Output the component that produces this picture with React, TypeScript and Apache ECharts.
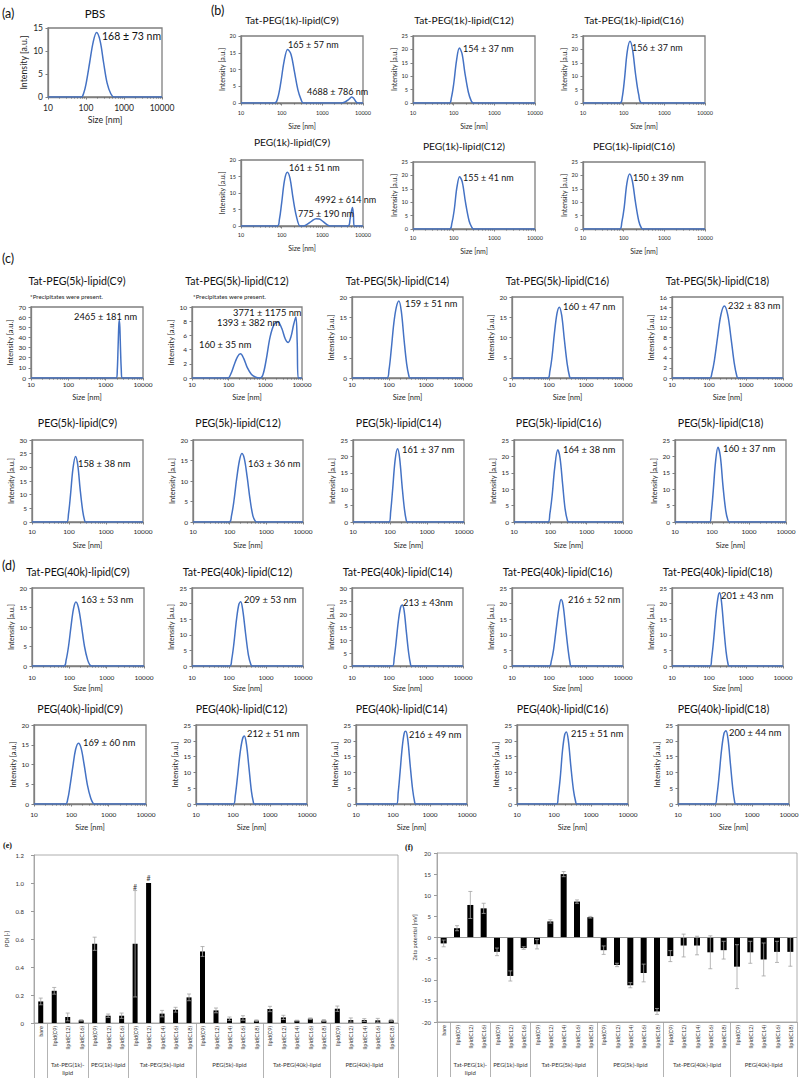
import React, { useEffect, useRef } from 'react';
import * as echarts from 'echarts';

const FONT = 'Lato, "Noto Sans", sans-serif';
const SERIF = '"Liberation Serif", "DejaVu Serif", serif';
const BLUE = '#4472C4';
const TXT = '#262626';
const FRAME = '#7f7f7f';
const FRAME2 = '#9a9a9a';
const ERR = '#a3a3a3';

// ---------- DLS size distributions: [size (nm), intensity (a.u.)] ----------
const curvePBS = [[10,0],[75,0],[88,1],[100,2.8],[125,7.5],[155,12],[190,14],[235,12.2],[290,7.5],[360,3],[450,0.7],[550,0],[10000,0]];
const tat1kC9 = [[10,0],[68,0],[80,1.5],[95,6],[115,12.5],[140,16],[170,14.5],[205,9.5],[250,4],[300,1],[340,0],[2900,0],[3600,0.3],[4400,1],[5300,1.8],[6000,1.3],[6800,0.3],[7500,0],[10000,0]];
const tat1kC12 = [[10,0],[78,0],[88,2],[100,7],[118,16],[138,20.5],[160,18.5],[190,11],[230,4],[270,0.8],[305,0],[10000,0]];
const tat1kC16 = [[10,0],[82,0],[92,2],[105,9],[122,19],[143,23],[165,20],[195,11],[235,3],[280,0],[10000,0]];
const peg1kC9 = [[10,0],[78,0],[88,2],[100,7],[118,14],[138,16.3],[160,14.5],[190,8.5],[230,3],[285,0],[340,0],[420,0.5],[550,1.5],[700,2.2],[850,2.1],[1050,1.3],[1300,0.4],[1550,0],[4300,0],[4800,2],[5200,4.5],[5500,5.6],[5800,3.5],[6100,0],[10000,0]];
const peg1kC12 = [[10,0],[80,0],[90,2],[103,7],[120,15.5],[140,19.5],[163,17.5],[195,10],[240,3],[280,0.6],[310,0],[10000,0]];
const peg1kC16 = [[10,0],[80,0],[90,2.5],[103,8],[120,17],[140,20.5],[163,18],[195,10],[235,3],[270,0.5],[295,0],[10000,0]];
const tat5kC9 = [[10,0],[1950,0],[2050,8],[2150,30],[2250,52],[2320,57],[2400,50],[2500,28],[2620,8],[2750,0],[10000,0]];
const tat5kC12 = [[10,0],[95,0],[115,0.6],[140,1.8],[175,3],[210,3.4],[255,2.8],[320,1.5],[420,0.5],[550,0.1],[700,0],[850,0.4],[1050,2.5],[1350,5.8],[1750,7.6],[2200,7.9],[2800,7],[3500,5.5],[4200,5],[5000,5.8],[5900,7.5],[6800,8.6],[7400,5],[7900,0],[10000,0]];
const tat5kC14 = [[10,0],[88,0],[100,2],[115,7],[135,13.5],[158,17.5],[185,19],[215,16.5],[255,9.5],[300,3.5],[345,0.5],[370,0],[10000,0]];
const tat5kC16 = [[10,0],[94,0],[105,1.5],[120,5],[140,11],[165,16],[190,17.5],[220,15.5],[260,9.5],[310,3.5],[360,0.3],[380,0],[10000,0]];
const tat5kC18 = [[10,0],[105,0],[120,1],[140,3.5],[170,8],[210,12.5],[260,14.2],[320,12.5],[400,7.5],[480,3],[560,0.5],[610,0],[10000,0]];
const peg5kC9 = [[10,0],[86,0],[97,3],[110,10],[128,19.5],[150,24],[172,21],[200,12],[235,4],[265,0.5],[280,0],[10000,0]];
const peg5kC12 = [[10,0],[98,0],[112,1.5],[130,5],[155,10.5],[185,15],[215,16.7],[250,15.5],[300,11],[360,5.5],[430,1.5],[500,0.2],[550,0],[10000,0]];
const peg5kC14 = [[10,0],[94,0],[104,3],[118,10],[138,19],[160,22.3],[182,19.5],[212,11],[245,4],[275,0.5],[295,0],[10000,0]];
const peg5kC16 = [[10,0],[86,0],[97,2.5],[112,8],[132,16.5],[160,22],[185,19.5],[218,11.5],[255,4],[295,0.5],[325,0],[10000,0]];
const peg5kC18 = [[10,0],[86,0],[96,3],[108,9.5],[125,18.5],[145,22.8],[168,20],[198,11],[235,3.5],[270,0.5],[295,0],[10000,0]];
const tat40kC9 = [[10,0],[72,0],[82,1.5],[95,5],[112,10.5],[130,14.8],[150,16.4],[175,15],[210,10.5],[255,5],[310,1.5],[360,0.2],[400,0],[10000,0]];
const tat40kC12 = [[10,0],[106,0],[118,2],[135,7],[160,15],[185,19.8],[207,20.6],[235,18],[280,10.5],[335,3.5],[390,0.5],[425,0],[10000,0]];
const tat40kC14 = [[10,0],[125,0],[138,3],[155,9],[178,17],[205,22.5],[228,23.5],[255,21.5],[295,13],[340,5],[380,0.8],[400,0],[10000,0]];
const tat40kC16 = [[10,0],[103,0],[115,1.5],[132,5],[155,11.5],[185,18.5],[212,21.3],[240,19.5],[280,12.5],[330,5],[370,1],[395,0],[10000,0]];
const tat40kC18 = [[10,0],[107,0],[118,2.5],[135,9],[155,17],[178,22.5],[195,23.5],[218,20.5],[250,12.5],[290,4.5],[325,0.8],[350,0],[10000,0]];
const peg40kC9 = [[10,0],[70,0],[80,1.2],[92,4.5],[110,9.5],[130,13.8],[155,15.4],[182,14.2],[220,10],[270,4.8],[330,1.5],[380,0.2],[410,0],[10000,0]];
const peg40kC12 = [[10,0],[103,0],[115,2.5],[132,8.5],[155,16],[180,20.5],[203,21.5],[230,19],[270,11.5],[315,4],[355,0.6],[375,0],[10000,0]];
const peg40kC14 = [[10,0],[125,0],[138,3.5],[155,10],[178,18],[202,22.5],[222,23],[250,20.5],[290,12.5],[340,4.5],[385,0.6],[405,0],[10000,0]];
const peg40kC16 = [[10,0],[118,0],[130,2.5],[148,8.5],[170,17],[195,22],[216,22.8],[245,20],[285,12],[335,4.5],[385,0.7],[410,0],[10000,0]];
const peg40kC18 = [[10,0],[100,0],[112,2.5],[128,8.5],[150,17],[175,22.3],[198,23.2],[225,20.5],[262,12.5],[305,4.5],[340,0.7],[360,0],[10000,0]];

// ---------- (e) PDI and (f) zeta potential ----------
const groupLabels = ['', 'Tat-PEG(1k)-\nlipid', 'PEG(1k)-lipid', 'Tat-PEG(5k)-lipid', 'PEG(5k)-lipid', 'Tat-PEG(40k)-lipid', 'PEG(40k)-lipid'];
const groupMembers = [
  ['bare'],
  ['lipid(C9)', 'lipid(C12)', 'lipid(C16)'],
  ['lipid(C9)', 'lipid(C12)', 'lipid(C16)'],
  ['lipid(C9)', 'lipid(C12)', 'lipid(C14)', 'lipid(C16)', 'lipid(C18)'],
  ['lipid(C9)', 'lipid(C12)', 'lipid(C14)', 'lipid(C16)', 'lipid(C18)'],
  ['lipid(C9)', 'lipid(C12)', 'lipid(C14)', 'lipid(C16)', 'lipid(C18)'],
  ['lipid(C9)', 'lipid(C12)', 'lipid(C14)', 'lipid(C16)', 'lipid(C18)'],
];
const pdiMean = [0.154, 0.23, 0.043, 0.019, 0.566, 0.052, 0.052, 0.566, 1.0, 0.067, 0.095, 0.183, 0.511, 0.09, 0.031, 0.036, 0.017, 0.1, 0.04, 0.017, 0.031, 0.017, 0.102, 0.021, 0.021, 0.019, 0.019];
const pdiErr = [0.024, 0.024, 0.028, 0.005, 0.047, 0.012, 0.019, 0.38, 0, 0.023, 0.017, 0.024, 0.035, 0.017, 0.012, 0.016, 0.005, 0.019, 0.015, 0.003, 0.005, 0.007, 0.019, 0.015, 0.01, 0.014, 0.007];
const pdiHashIndex = [7, 8];
const pdiHashValue = [0.975, 1.035];
const zetaMean = [-1.4, 2.2, 7.7, 6.9, -3.4, -9.1, -2.5, -1.6, 3.8, 15.0, 8.5, 4.8, -3.0, -6.5, -11.3, -8.4, -17.5, -4.4, -1.9, -1.9, -3.5, -3.0, -6.9, -3.5, -5.2, -3.4, -3.4];
const zetaErr = [0.8, 0.6, 3.2, 1.2, 0.9, 1.2, 0.3, 1.1, 0.4, 0.6, 0.4, 0.2, 1.0, 0.4, 0.6, 2.1, 0.7, 1.3, 2.7, 2.2, 3.9, 2.1, 5.2, 2.6, 3.9, 2.5, 3.4];

// ---------- layout of the small DLS panels ----------
type Row = { tick: number; name: number; title: number; note: number; xMargin: number; xNameGap: number; yNameGap: number; yMargin: number };
const ROWS: Record<string, Row> = {
  a: { tick: 8.5, name: 8.8, title: 11.5, note: 10.5, xMargin: 6.5, xNameGap: 17.5, yNameGap: 20, yMargin: 5 },
  b1: { tick: 5.5, name: 7, title: 10.2, note: 9, xMargin: 7, xNameGap: 19.5, yNameGap: 16, yMargin: 5 },
  b2: { tick: 5.5, name: 7, title: 10.2, note: 9, xMargin: 6, xNameGap: 18, yNameGap: 16, yMargin: 5 },
  c1: { tick: 6.5, name: 7.5, title: 10.6, note: 9.3, xMargin: 3, xNameGap: 15, yNameGap: 17, yMargin: 5 },
  c2: { tick: 6.5, name: 7.5, title: 10.6, note: 9.3, xMargin: 6, xNameGap: 19, yNameGap: 17, yMargin: 5 },
  d1: { tick: 6.5, name: 7.5, title: 10.6, note: 9.3, xMargin: 7.5, xNameGap: 18, yNameGap: 17, yMargin: 5 },
  d2: { tick: 6.5, name: 7.5, title: 10.6, note: 9.3, xMargin: 6.5, xNameGap: 19, yNameGap: 17, yMargin: 5 },
};

type Panel = { row: string; title: string; curve: number[][]; yMax: number; yStep: number; box: number[]; titleY: number; notes: [string, number, number][]; sub?: [string, number, number] };

const PANELS: Panel[] = [
  { row: 'a', title: 'PBS', curve: curvePBS, yMax: 15, yStep: 5, box: [48, 28, 162, 97], titleY: 13, notes: [['168 ± 73 nm', 102, 36]] },
  { row: 'b1', title: 'Tat-PEG(1k)-lipid(C9)', curve: tat1kC9, yMax: 20, yStep: 5, box: [241, 36, 363, 103], titleY: 20, notes: [['165 ± 57 nm', 288, 44], ['4688 ± 786 nm', 307, 91]] },
  { row: 'b1', title: 'Tat-PEG(1k)-lipid(C12)', curve: tat1kC12, yMax: 25, yStep: 5, box: [413, 36, 535, 103], titleY: 20, notes: [['154 ± 37 nm', 463, 48]] },
  { row: 'b1', title: 'Tat-PEG(1k)-lipid(C16)', curve: tat1kC16, yMax: 25, yStep: 5, box: [583, 36, 705, 103], titleY: 20, notes: [['156 ± 37 nm', 632, 47]] },
  { row: 'b2', title: 'PEG(1k)-lipid(C9)', curve: peg1kC9, yMax: 20, yStep: 5, box: [241, 160, 363, 226], titleY: 142, notes: [['161 ± 51 nm', 289, 167], ['4992 ± 614 nm', 315, 199], ['775 ± 190 nm', 298, 213]] },
  { row: 'b2', title: 'PEG(1k)-lipid(C12)', curve: peg1kC12, yMax: 25, yStep: 5, box: [413, 162, 535, 229], titleY: 146, notes: [['155 ± 41 nm', 463, 177]] },
  { row: 'b2', title: 'PEG(1k)-lipid(C16)', curve: peg1kC16, yMax: 25, yStep: 5, box: [583, 162, 705, 229], titleY: 146, notes: [['150 ± 39 nm', 633, 177]] },
  { row: 'c1', title: 'Tat-PEG(5k)-lipid(C9)', curve: tat5kC9, yMax: 70, yStep: 10, box: [31, 307, 143, 378], titleY: 281, notes: [['2465 ± 181 nm', 74, 316]], sub: ['*Precipitates were present.', 30, 296] },
  { row: 'c1', title: 'Tat-PEG(5k)-lipid(C12)', curve: tat5kC12, yMax: 10, yStep: 2, box: [192, 307, 302, 378], titleY: 281, notes: [['3771 ± 1175 nm', 233, 312], ['1393 ± 382 nm', 217, 322], ['160 ± 35 nm', 199, 344]], sub: ['*Precipitates were present.', 193, 296] },
  { row: 'c1', title: 'Tat-PEG(5k)-lipid(C14)', curve: tat5kC14, yMax: 20, yStep: 5, box: [352, 297, 463, 378], titleY: 281, notes: [['159 ± 51 nm', 405, 303]] },
  { row: 'c1', title: 'Tat-PEG(5k)-lipid(C16)', curve: tat5kC16, yMax: 20, yStep: 5, box: [512, 297, 623, 378], titleY: 281, notes: [['160 ± 47 nm', 563, 306]] },
  { row: 'c1', title: 'Tat-PEG(5k)-lipid(C18)', curve: tat5kC18, yMax: 16, yStep: 2, box: [672, 297, 783, 378], titleY: 281, notes: [['232 ± 83 nm', 728, 305]] },
  { row: 'c2', title: 'PEG(5k)-lipid(C9)', curve: peg5kC9, yMax: 30, yStep: 5, box: [32, 440, 143, 522], titleY: 423, notes: [['158 ± 38 nm', 78, 463]] },
  { row: 'c2', title: 'PEG(5k)-lipid(C12)', curve: peg5kC12, yMax: 20, yStep: 5, box: [193, 440, 303, 522], titleY: 423, notes: [['163 ± 36 nm', 248, 463]] },
  { row: 'c2', title: 'PEG(5k)-lipid(C14)', curve: peg5kC14, yMax: 25, yStep: 5, box: [353, 440, 464, 522], titleY: 423, notes: [['161 ± 37 nm', 402, 449]] },
  { row: 'c2', title: 'PEG(5k)-lipid(C16)', curve: peg5kC16, yMax: 25, yStep: 5, box: [514, 440, 623, 522], titleY: 423, notes: [['164 ± 38 nm', 563, 449]] },
  { row: 'c2', title: 'PEG(5k)-lipid(C18)', curve: peg5kC18, yMax: 25, yStep: 5, box: [675, 440, 786, 522], titleY: 423, notes: [['160 ± 37 nm', 723, 448]] },
  { row: 'd1', title: 'Tat-PEG(40k)-lipid(C9)', curve: tat40kC9, yMax: 20, yStep: 5, box: [32, 588, 144, 666], titleY: 572, notes: [['163 ± 53 nm', 81, 599]] },
  { row: 'd1', title: 'Tat-PEG(40k)-lipid(C12)', curve: tat40kC12, yMax: 25, yStep: 5, box: [192, 588, 303, 666], titleY: 572, notes: [['209 ± 53 nm', 244, 599]] },
  { row: 'd1', title: 'Tat-PEG(40k)-lipid(C14)', curve: tat40kC14, yMax: 30, yStep: 5, box: [352, 588, 463, 666], titleY: 572, notes: [['213 ± 43nm', 403, 602]] },
  { row: 'd1', title: 'Tat-PEG(40k)-lipid(C16)', curve: tat40kC16, yMax: 25, yStep: 5, box: [512, 588, 623, 666], titleY: 572, notes: [['216 ± 52 nm', 568, 599]] },
  { row: 'd1', title: 'Tat-PEG(40k)-lipid(C18)', curve: tat40kC18, yMax: 25, yStep: 5, box: [672, 588, 783, 666], titleY: 572, notes: [['201 ± 43 nm', 721, 595]] },
  { row: 'd2', title: 'PEG(40k)-lipid(C9)', curve: peg40kC9, yMax: 20, yStep: 5, box: [34, 725, 146, 804], titleY: 709, notes: [['169 ± 60 nm', 83, 742]] },
  { row: 'd2', title: 'PEG(40k)-lipid(C12)', curve: peg40kC12, yMax: 25, yStep: 5, box: [196, 725, 307, 804], titleY: 709, notes: [['212 ± 51 nm', 247, 733]] },
  { row: 'd2', title: 'PEG(40k)-lipid(C14)', curve: peg40kC14, yMax: 25, yStep: 5, box: [356, 725, 467, 804], titleY: 709, notes: [['216 ± 49 nm', 409, 734]] },
  { row: 'd2', title: 'PEG(40k)-lipid(C16)', curve: peg40kC16, yMax: 25, yStep: 5, box: [517, 725, 628, 804], titleY: 709, notes: [['215 ± 51 nm', 571, 733]] },
  { row: 'd2', title: 'PEG(40k)-lipid(C18)', curve: peg40kC18, yMax: 25, yStep: 5, box: [678, 725, 789, 804], titleY: 709, notes: [['200 ± 44 nm', 729, 732]] },
];

function txt(s: string, x: number, y: number, size: number, align = 'left', extra: any = {}) {
  return {
    type: 'text', x, y, silent: true, z: 50,
    style: { text: s, fontFamily: FONT, fontSize: size, fill: TXT, align, textAlign: align, verticalAlign: 'middle', textVerticalAlign: 'middle', ...extra },
  };
}

function errSeries(xi: number, yi: number, mean: number[], err: number[], color: string) {
  return {
    type: 'custom', xAxisIndex: xi, yAxisIndex: yi, z: 5, silent: true,
    itemStyle: { color },
    encode: { x: 0, y: [1, 2] },
    data: mean.map((m, i) => [i, m - err[i], m + err[i]]),
    renderItem: (params: any, api: any) => {
      if (api.value(2) === api.value(1)) return null;
      const lo = api.coord([api.value(0), api.value(1)]);
      const hi = api.coord([api.value(0), api.value(2)]);
      const w = 2;
      const mk = () => ({ stroke: color, fill: 'none', lineWidth: 0.8 });
      return {
        type: 'group', children: [
          { type: 'line', shape: { x1: hi[0], y1: hi[1], x2: lo[0], y2: lo[1] }, style: mk() },
          { type: 'line', shape: { x1: hi[0] - w, y1: hi[1], x2: hi[0] + w, y2: hi[1] }, style: mk() },
          { type: 'line', shape: { x1: lo[0] - w, y1: lo[1], x2: lo[0] + w, y2: lo[1] }, style: mk() },
        ],
      };
    },
  };
}

function buildOption() {
  const grid: any[] = [];
  const xAxis: any[] = [];
  const yAxis: any[] = [];
  const series: any[] = [];
  const elements: any[] = [];

  PANELS.forEach((p, i) => {
    const r = ROWS[p.row];
    const [l, t, rr, b] = p.box;
    grid.push({ left: l, top: t, width: rr - l, height: b - t, show: true, borderColor: FRAME, borderWidth: 1.3, outerBoundsMode: 'none', containLabel: false });
    xAxis.push({
      gridIndex: i, type: 'log', logBase: 10, min: 10, max: 10000,
      name: 'Size [nm]', nameLocation: 'middle', nameGap: r.xNameGap,
      nameTextStyle: { fontFamily: FONT, fontSize: r.name, color: TXT },
      axisLine: { show: true, onZero: false, lineStyle: { color: FRAME, width: 1.3 } },
      axisTick: { show: true, length: 2.5, lineStyle: { color: FRAME } },
      minorTick: { show: true, splitNumber: 9, length: 1.5, lineStyle: { color: '#6f6f6f' } },
      splitLine: { show: false }, minorSplitLine: { show: false },
      axisLabel: { fontFamily: FONT, fontSize: r.tick, color: TXT, margin: r.xMargin, formatter: (v: number) => String(Math.round(v)) },
    });
    yAxis.push({
      gridIndex: i, type: 'value', min: 0, max: p.yMax, interval: p.yStep,
      name: 'Intensity [a.u.]', nameLocation: 'middle', nameGap: r.yNameGap,
      nameTextStyle: { fontFamily: FONT, fontSize: r.name, color: TXT },
      axisLine: { show: true, lineStyle: { color: FRAME, width: 1.3 } },
      axisTick: { show: true, length: 2.5, lineStyle: { color: FRAME } },
      splitLine: { show: false },
      axisLabel: { fontFamily: FONT, fontSize: r.tick, color: TXT, margin: r.yMargin },
    });
    series.push({
      type: 'line', xAxisIndex: i, yAxisIndex: i, data: p.curve, symbol: 'none', showSymbol: false,
      smooth: 0.35, clip: true, z: 4, lineStyle: { color: BLUE, width: 1.5 },
    });
    elements.push(txt(p.title, (l + rr) / 2 - 10, p.titleY, r.title, 'center', { fill: '#111' }));
    p.notes.forEach(([s, x, y]) => elements.push(txt(s, x, y, r.note, 'left', { fill: '#111' })));
    if (p.sub) elements.push(txt(p.sub[0], p.sub[1], p.sub[2], 6.2, 'left'));
  });

  // ---- bar charts ----
  const categories = groupMembers.flat();
  const catIds = categories.map((_, i) => String(i));
  const groupStarts: number[] = [];
  const groupMid: Record<number, string> = {};
  let acc = 0;
  groupMembers.forEach((g, gi) => {
    groupStarts.push(acc);
    groupMid[acc + (g.length - 1) / 2] = groupLabels[gi];
    acc += g.length;
  });
  const startSet = new Set(groupStarts);

  const barAxes = (gi: number, offset: number) => [
    {
      gridIndex: gi, type: 'category', data: catIds, boundaryGap: true,
      axisLine: { show: true, onZero: false, lineStyle: { color: FRAME2, width: 0.8 } },
      axisTick: { show: true, interval: (idx: number) => startSet.has(idx), length: 55, lineStyle: { color: '#a0a0a0', width: 0.8 } },
      axisLabel: { interval: 0, rotate: 90, fontFamily: FONT, fontSize: 5.6, color: '#333', margin: 3, formatter: (v: string) => categories[+v] },
    },
    {
      gridIndex: gi, type: 'category', data: catIds, position: 'bottom', offset,
      axisLine: { show: false }, axisTick: { show: false },
      axisLabel: { interval: 0, fontFamily: FONT, fontSize: 6, lineHeight: 8, color: '#333', margin: 4, formatter: (v: string) => groupMid[+v] || '' },
    },
  ];

  const gE = PANELS.length;
  const gF = gE + 1;
  grid.push({ left: 34, top: 855, width: 364, height: 168, show: true, borderColor: FRAME2, borderWidth: 0.8, outerBoundsMode: 'none' });
  grid.push({ left: 437, top: 853, width: 360, height: 169, show: true, borderColor: FRAME2, borderWidth: 0.8, outerBoundsMode: 'none' });
  const xE = xAxis.length;
  xAxis.push(...barAxes(gE, 33));
  const xF = xAxis.length;
  xAxis.push(...barAxes(gF, 34));
  const yE = yAxis.length;
  yAxis.push({
    gridIndex: gE, type: 'value', min: 0, max: 1.2, interval: 0.2,
    name: 'PDI [-]', nameLocation: 'middle', nameGap: 24,
    nameTextStyle: { fontFamily: FONT, fontSize: 5.5, color: '#333' },
    axisLine: { show: true, lineStyle: { color: FRAME2, width: 0.8 } },
    axisTick: { show: true, length: 3, lineStyle: { color: FRAME2 } },
    splitLine: { show: false },
    axisLabel: { fontFamily: FONT, fontSize: 6, color: '#333', margin: 10, formatter: (v: number) => (v === 0 ? '0' : v.toFixed(1)) },
  });
  const yF = yAxis.length;
  yAxis.push({
    gridIndex: gF, type: 'value', min: -20, max: 20, interval: 5,
    name: 'Zeta potential [mV]', nameLocation: 'middle', nameGap: 18,
    nameTextStyle: { fontFamily: FONT, fontSize: 5.5, color: '#333' },
    axisLine: { show: true, onZero: false, lineStyle: { color: FRAME2, width: 0.8 } },
    axisTick: { show: true, length: 3, lineStyle: { color: FRAME2 } },
    splitLine: { show: false },
    axisLabel: { fontFamily: FONT, fontSize: 6, color: '#333', margin: 6 },
  });

  series.push({
    type: 'bar', xAxisIndex: xE, yAxisIndex: yE, data: pdiMean, barWidth: 5, itemStyle: { color: '#000' }, z: 2,
    markPoint: {
      silent: true, symbol: 'circle', symbolSize: 0.01, itemStyle: { color: 'rgba(0,0,0,0)' },
      label: { show: true, position: 'inside', formatter: '#', fontFamily: FONT, fontSize: 7, color: '#333' },
      data: pdiHashIndex.map((idx, k) => ({ coord: [String(idx), pdiHashValue[k]] })),
    },
  });
  series.push(errSeries(xE, yE, pdiMean, pdiErr, ERR));
  series.push({
    type: 'bar', xAxisIndex: xF, yAxisIndex: yF, data: zetaMean, barWidth: 6, itemStyle: { color: '#000' }, z: 2,
    markLine: { silent: true, symbol: 'none', label: { show: false }, lineStyle: { color: '#8a8a8a', width: 0.9, type: 'solid' }, data: [{ yAxis: 0 }] },
  });
  series.push(errSeries(xF, yF, zetaMean, zetaErr, ERR));

  elements.push(txt('(a)', 2, 13, 12.5, 'left', { fill: '#111' }));
  elements.push(txt('(b)', 211, 10, 12.5, 'left', { fill: '#111' }));
  elements.push(txt('(c)', 2, 258, 12.5, 'left', { fill: '#111' }));
  elements.push(txt('(d)', 2, 565, 12.5, 'left', { fill: '#111' }));
  elements.push(txt('(e)', 3, 845, 8, 'left', { fill: '#111', fontFamily: SERIF, fontWeight: 'bold' }));
  elements.push(txt('(f)', 405, 847, 8, 'left', { fill: '#111', fontFamily: SERIF, fontWeight: 'bold' }));

  return {
    animation: false,
    backgroundColor: '#ffffff',
    textStyle: { fontFamily: FONT },
    grid, xAxis, yAxis, series,
    graphic: { elements },
  };
}

export default function App() {
  const ref = useRef<HTMLDivElement>(null);
  useEffect(() => {
    const chart = echarts.init(ref.current as HTMLDivElement, null, { renderer: 'svg' });
    chart.setOption(buildOption() as any);
    return () => chart.dispose();
  }, []);
  return <div ref={ref} style={{ position: 'absolute', left: 0, top: 0, width: 800, height: 1078, background: '#fff' }} />;
}
